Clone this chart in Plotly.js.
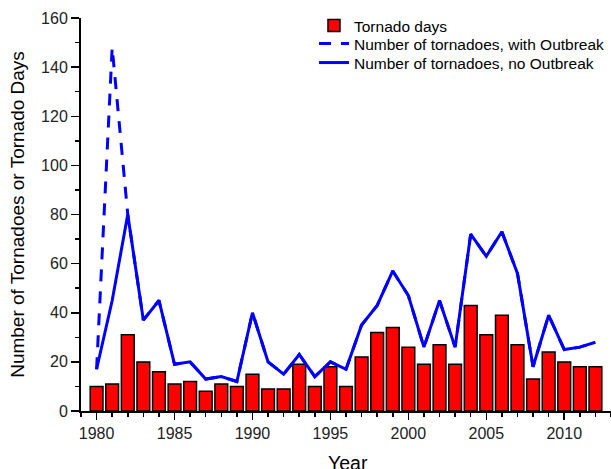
<!DOCTYPE html>
<html>
<head>
<meta charset="utf-8">
<script src="https://cdn.plot.ly/plotly-3.0.1.min.js"></script>
<style>html,body{margin:0;padding:0;background:#fff;}#chart{width:611px;height:469px;}</style>
</head>
<body>
<div id="chart"></div>
<script>
const years = [1980,1981,1982,1983,1984,1985,1986,1987,1988,1989,1990,1991,1992,1993,1994,1995,1996,1997,1998,1999,2000,2001,2002,2003,2004,2005,2006,2007,2008,2009,2010,2011,2012];
const tornadoDays = [10,11,31,20,16,11,12,8,11,10,15,9,9,19,10,18,10,22,32,34,26,19,27,19,43,31,39,27,13,24,20,18,18];
const tornadoesWithOutbreak = [17,148,80,37,45,19,20,13,14,12,40,20,15,23,14,20,17,35,43,57,47,26,45,26,72,63,73,56,18,39,25,26,28];
const tornadoesNoOutbreak = [17,45,80,37,45,19,20,13,14,12,40,20,15,23,14,20,17,35,43,57,47,26,45,26,72,63,73,56,18,39,25,26,28];
const seriesNames = ["Tornado days","Number of tornadoes, with Outbreak","Number of tornadoes, no Outbreak"];
const xTitle = "Year";
const yTitle = "Number of Tornadoes or Tornado Days";

const font = "Arial, 'Liberation Sans', sans-serif";

const traces = [
  {type:'bar', x:years, y:tornadoDays, name:seriesNames[0], legend:'legend',
   marker:{color:'#FF0000', line:{color:'#000000', width:1.5}}},
  {type:'scatter', mode:'lines', x:years, y:tornadoesWithOutbreak, name:seriesNames[1], legend:'legend2',
   line:{color:'#0000FF', width:3, dash:'12px,10px'}},
  {type:'scatter', mode:'lines', x:years, y:tornadoesNoOutbreak, name:seriesNames[2], legend:'legend3',
   line:{color:'#0000FF', width:3}}
];

const legFont = {family:font, size:15.5, color:'#000'};
const legBase = {x:0.4396, xanchor:'left', yanchor:'top', bgcolor:'rgba(0,0,0,0)', font:legFont, itemwidth:30};

const layout = {
  width:611, height:469,
  margin:{l:81, r:0, t:18, b:58},
  paper_bgcolor:'#fff', plot_bgcolor:'#fff',
  font:{family:font, color:'#000', size:16},
  showlegend:true,
  bargap:0.18,
  legend:Object.assign({}, legBase, {y:1.0229}),
  legend2:Object.assign({}, legBase, {y:0.977}),
  legend3:Object.assign({}, legBase, {y:0.9288}),
  xaxis:{range:[1979,2013], showgrid:false, zeroline:false, showline:true, linecolor:'#000', linewidth:2,
         ticks:'outside', ticklen:7, tickwidth:1.5, tickcolor:'#000', dtick:5, tick0:1980,
         tickfont:{family:font, size:16, color:'#222'},
         minor:{dtick:1, tick0:1980, ticks:'outside', ticklen:4, tickwidth:1.5, tickcolor:'#000', showgrid:false}},
  yaxis:{range:[0,160], showgrid:false, zeroline:false, showline:true, linecolor:'#000', linewidth:2,
         ticks:'outside', ticklen:8, tickwidth:1.5, tickcolor:'#000', dtick:20, tick0:0,
         tickfont:{family:font, size:16, color:'#222'}, automargin:true,
         minor:{dtick:10, ticks:'outside', ticklen:4, tickwidth:1.5, tickcolor:'#000', showgrid:false},
         title:{text:yTitle, font:{family:font, size:19, color:'#000'}, standoff:11}},
  annotations:[
    {text:xTitle, xref:'paper', yref:'paper', x:0.503, y:-0.0995, xanchor:'center', yanchor:'top',
     showarrow:false, font:{family:font, size:19.5, color:'#000'}}
  ]
};

Plotly.newPlot('chart', traces, layout, {displayModeBar:false, staticPlot:true});
</script>
</body>
</html>
